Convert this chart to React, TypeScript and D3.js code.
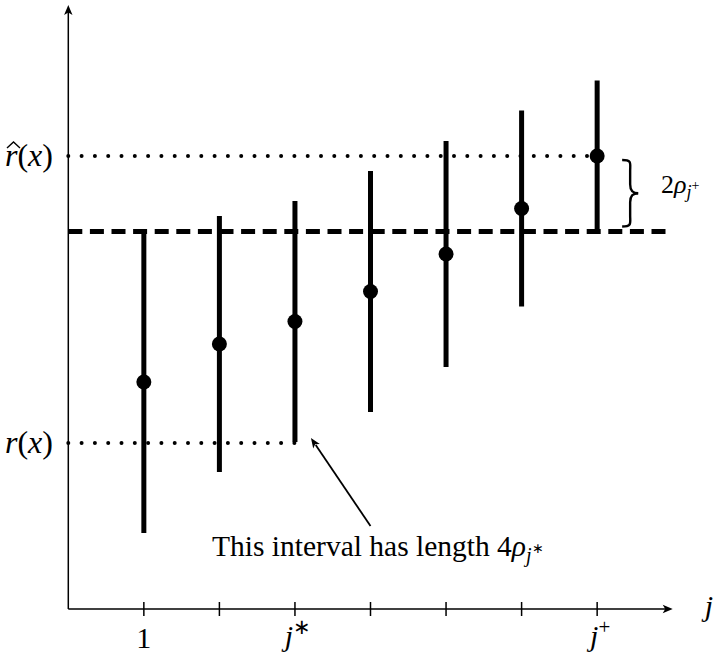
import React from "react";
import * as d3 from "d3";

// ---- data ----
const categories = [1, 2, 3, 4, 5, 6, 7];
const tickLabels = ["1", "", "j*", "", "", "", "j+"];
const estimates = [227, 265, 287.5, 317.5, 355, 400.5, 453];
const halfWidths = [151, 128, 120.5, 120.5, 113, 98, 75.5];
const rHatValue = 453;
const rTrueValue = 166;
const thresholdValue = 377.5;
const jStar = 3;
const jPlus = 7;

const W = 716;
const H = 656;
const SERIF = "'Liberation Serif', 'Times New Roman', serif";

export default function App() {
  const x = d3.scaleLinear().domain([0, 8]).range([68.3, 672.7]);
  const y = d3.scaleLinear().domain([0, 600]).range([609, 9]);
  const x0 = x(0);
  const y0 = y(0);
  const xEnd = x(8);
  const yTop = y(604);

  const line = d3.line<[number, number]>();

  const arrowHead = (tx: number, ty: number, dx: number, dy: number, len = 10, half = 4.2) => {
    const n = Math.hypot(dx, dy);
    const ux = dx / n, uy = dy / n;
    const px = -uy, py = ux;
    const bx = tx - ux * len, by = ty - uy * len;
    const nx = tx - ux * len * 0.75, ny = ty - uy * len * 0.75;
    return `M${tx},${ty} L${bx + px * half},${by + py * half} L${nx},${ny} L${bx - px * half},${by - py * half} Z`;
  };

  // brace
  const bx0 = x(jPlus) + 25;
  const bx1 = x(jPlus) + 41;
  const by0 = y(rHatValue) + 4;
  const by1 = y(thresholdValue) - 5;
  const bym = (by0 + by1) / 2;
  const bxm = (bx0 + bx1) / 2;
  const braceHalf = (s: number) => {
    const yA = s > 0 ? by0 : by1;
    const dir = s > 0 ? 1 : -1;
    return `M${bx0},${yA} C${bxm + 2},${yA} ${bxm},${yA + dir * 3} ${bxm},${yA + dir * 11} L${bxm},${bym - dir * 9} C${bxm},${bym - dir * 2} ${bxm + 3},${bym} ${bx1},${bym}`;
  };

  const aTip: [number, number] = [x(jStar) + 16, y(rTrueValue) - 5];
  const aTail: [number, number] = [x(jStar + 1), y(rTrueValue) + 83];

  const hatX = 12;
  const rBase = y(rHatValue) + 10;

  return (
    <svg
      width={W}
      height={H}
      viewBox={`0 0 ${W} ${H}`}
      style={{ position: "absolute", left: 0, top: 0, background: "#fff" }}
    >
      <rect width={W} height={H} fill="#fff" />
      {/* axes */}
      <path d={line([[x0, y0], [xEnd - 6, y0]]) || ""} stroke="#000" strokeWidth={1.5} fill="none" />
      <path d={line([[x0, y0], [x0, yTop + 6]]) || ""} stroke="#000" strokeWidth={1.5} fill="none" />
      <path d={arrowHead(xEnd, y0, 1, 0)} fill="#000" />
      <path d={arrowHead(x0, yTop, 0, -1)} fill="#000" />
      {categories.map((c) => (
        <line key={"t" + c} x1={x(c)} x2={x(c)} y1={y0 - 7} y2={y0 + 7} stroke="#000" strokeWidth={1.5} />
      ))}
      {categories.map((c, i) => {
        const lab = tickLabels[i];
        if (!lab) return null;
        if (lab === "1")
          return (
            <text key={"l" + c} x={x(c)} y={648} textAnchor="middle" fontFamily={SERIF} fontSize={30}>
              1
            </text>
          );
        return (
          <text key={"l" + c} x={x(c) + 3} y={646} textAnchor="middle" fontFamily={SERIF} fontSize={30}>
            <tspan fontStyle="italic">{lab[0]}</tspan>
            <tspan fontSize={21} dy={-12}>{lab[1] === "*" ? "∗" : "+"}</tspan>
          </text>
        );
      })}
      <text x={709} y={616} textAnchor="middle" fontFamily={SERIF} fontSize={30} fontStyle="italic">
        j
      </text>

      {/* dashed threshold */}
      <line
        x1={x0}
        x2={xEnd}
        y1={y(thresholdValue)}
        y2={y(thresholdValue)}
        stroke="#000"
        strokeWidth={5}
        strokeDasharray="14 7.6"
      />
      {/* dotted lines */}
      <line
        x1={x0}
        x2={x(jPlus)}
        y1={y(rHatValue)}
        y2={y(rHatValue)}
        stroke="#000"
        strokeWidth={4}
        strokeLinecap="round"
        strokeDasharray="0 13.3"
      />
      <line
        x1={x0}
        x2={x(jStar)}
        y1={y(rTrueValue)}
        y2={y(rTrueValue)}
        stroke="#000"
        strokeWidth={4}
        strokeLinecap="round"
        strokeDasharray="0 13.3"
      />

      {/* intervals */}
      {categories.map((c, i) => (
        <g key={"b" + c}>
          <line
            x1={x(c)}
            x2={x(c)}
            y1={y(estimates[i] + halfWidths[i])}
            y2={y(estimates[i] - halfWidths[i])}
            stroke="#000"
            strokeWidth={5}
          />
          <circle cx={x(c)} cy={y(estimates[i])} r={7.5} fill="#000" />
        </g>
      ))}

      {/* y labels */}
      <text x={5} y={rBase} fontFamily={SERIF} fontSize={32}>
        <tspan fontStyle="italic">r</tspan>(<tspan fontStyle="italic">x</tspan>)
      </text>
      <path
        d={`M${hatX - 5},${rBase - 18} L${hatX + 1.5},${rBase - 24} L${hatX + 8},${rBase - 18}`}
        stroke="#000"
        strokeWidth={1.4}
        fill="none"
      />
      <text x={5} y={y(rTrueValue) + 10} fontFamily={SERIF} fontSize={32}>
        <tspan fontStyle="italic">r</tspan>(<tspan fontStyle="italic">x</tspan>)
      </text>

      {/* brace */}
      <path d={braceHalf(1)} stroke="#000" strokeWidth={2.4} fill="none" />
      <path d={braceHalf(-1)} stroke="#000" strokeWidth={2.4} fill="none" />
      <text x={661} y={193} fontFamily={SERIF} fontSize={26}>
        2<tspan fontStyle="italic">ρ</tspan>
        <tspan fontStyle="italic" fontSize={18} dy={5}>j</tspan>
        <tspan fontSize={14} dy={-8}>+</tspan>
      </text>

      {/* annotation */}
      <path d={line([aTail, [aTip[0] + (aTail[0] - aTip[0]) * 0.08, aTip[1] + (aTail[1] - aTip[1]) * 0.08]]) || ""} stroke="#000" strokeWidth={1.8} fill="none" />
      <path d={arrowHead(aTip[0], aTip[1], aTip[0] - aTail[0], aTip[1] - aTail[1], 10, 4)} fill="#000" />
      <text x={212} y={556} fontFamily={SERIF} fontSize={29.5}>
        This interval has length 4<tspan fontStyle="italic">ρ</tspan>
        <tspan fontStyle="italic" fontSize={20} dy={6}>j</tspan>
        <tspan fontSize={14} dy={-9}>∗</tspan>
      </text>
    </svg>
  );
}
